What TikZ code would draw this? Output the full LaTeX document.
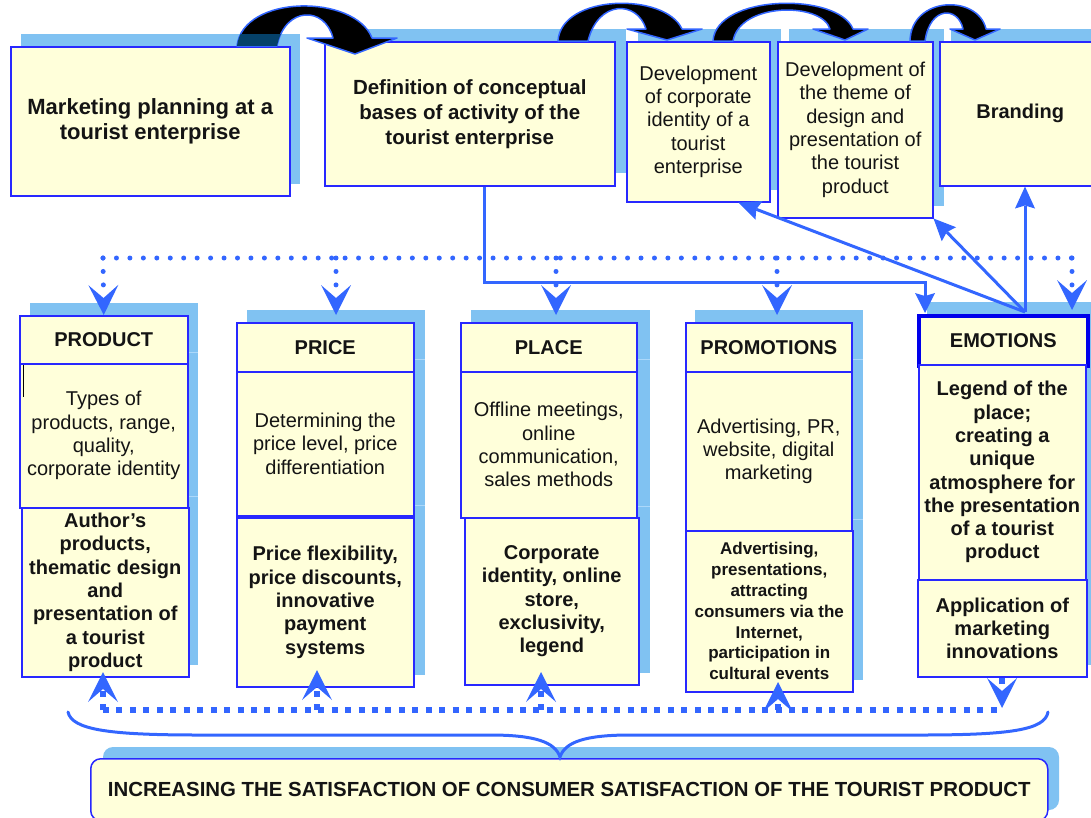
\documentclass[tikz,border=0pt]{standalone}
\usepackage{fontspec}
\setmainfont{Liberation Sans}
\usetikzlibrary{arrows.meta}
\definecolor{cellfill}{RGB}{255,255,218}
\definecolor{bordblue}{RGB}{40,40,255}
\definecolor{thickblue}{RGB}{0,0,235}
\definecolor{shadowblue}{RGB}{128,194,242}
\definecolor{shadowline}{RGB}{172,216,250}
\definecolor{arrowblue}{RGB}{51,102,255}
\definecolor{navyish}{RGB}{5,65,105}
\definecolor{txt}{RGB}{20,20,20}
\newcommand\arcOnePath{(237,46) .. controls (243,-6) and (355,-6) .. (372,38) -- (397,38) -- (355,54) -- (307,38) -- (333,38) .. controls (325,6) and (285,6) .. (277,46) -- cycle}
\newcommand\arcTwoPath{(558,41) .. controls (561,-6) and (665,-8) .. (682,29) -- (702,29) -- (667,40) -- (627,29) -- (646,29) .. controls (637,0) and (598,0) .. (588,41) -- cycle}
\newcommand\arcThreePath{(713,41) .. controls (716,-6) and (838,-8) .. (853,29) -- (868,29) -- (845,40) -- (813,29) -- (830,29) .. controls (822,2) and (740,2) .. (733,41) -- cycle}
\newcommand\arcFourPath{(910,41) .. controls (911,-4) and (978,-6) .. (986,29) -- (1000,29) -- (975,40) -- (950,29) -- (963,29) .. controls (958,6) and (930,6) .. (925,41) -- cycle}
\begin{document}
\begin{tikzpicture}[x=1pt,y=-1pt,
  cell/.style={draw=bordblue, fill=cellfill, line width=1.5pt, inner sep=0pt, align=center, anchor=north west, text=txt},
  reg/.style={font=\fontsize{20}{23.3}\selectfont},
  bld/.style={font=\fontsize{20}{23.3}\selectfont\bfseries},
  shad/.style={fill=shadowblue},
  sepline/.style={draw=shadowline, line width=1pt},
  blackarrow/.style={fill=black, draw=arrowblue, line width=1.5pt, line join=round},
  link/.style={draw=arrowblue, line width=3pt, -{Stealth[length=22pt,width=20pt,inset=3pt,line width=0pt]}},
  topdots/.style={draw=arrowblue, line width=5pt, line cap=round, dash pattern=on 0pt off 13.45pt},
  botdots/.style={draw=arrowblue, line width=6pt, dash pattern=on 6pt off 7.45pt},
  vtip/.style={-{Stealth[length=30pt,width=30pt,inset=13pt,line width=0pt]}},
  bracepath/.style={draw=arrowblue, line width=3pt, line cap=round},
]
\useasboundingbox (0,0) rectangle (1091,817);

% ---------- shadows ----------
\fill[shad] (21,34) rectangle (300,184);
\fill[shad] (336,29) rectangle (626,173);
\fill[shad] (638,29) rectangle (781,190);
\fill[shad] (789,29) rectangle (944,206);
\fill[shad] (951,29) rectangle (1100,173);
\fill[shad] (30,303) rectangle (198,665);
\fill[shad] (247,310) rectangle (425,675);
\fill[shad] (471,310) rectangle (650,673);
\fill[shad] (695,310) rectangle (863,680);
\fill[shad] (927,302) rectangle (1100,665);
\draw[sepline] (30,352) -- (198,352) (30,496) -- (198,496);
\draw[sepline] (247,359) -- (425,359) (247,505) -- (425,505);
\draw[sepline] (471,359) -- (650,359) (471,506) -- (650,506);
\draw[sepline] (695,359) -- (863,359) (695,519) -- (863,519);
\fill[shad, rounded corners=10pt] (103,747) rectangle (1059,810);

% ---------- top row ----------
\node[cell, font=\fontsize{22}{25}\selectfont\bfseries, minimum width=279pt, minimum height=149pt] (plan) at (10,46) {Marketing planning at a\\tourist enterprise};
\node[cell, font=\fontsize{20.5}{25}\selectfont\bfseries, minimum width=290pt, minimum height=144pt] (concept) at (324,41) {Definition of conceptual\\bases of activity of the\\tourist enterprise};
\node[cell, reg, minimum width=143pt, minimum height=160pt] (corp) at (626,41) {Development\\of corporate\\identity of a\\tourist\\enterprise};
\node[cell, reg, minimum width=155pt, minimum height=176pt] (theme) at (777,41) {Development of\\the theme of\\design and\\presentation of\\the tourist\\product};
\node[cell, bld, minimum width=161pt, minimum height=144pt] (brand) at (939,41) {Branding};

% ---------- columns ----------
\node[cell, bld, minimum width=168pt, minimum height=48pt] (prodH) at (19,315) {PRODUCT};
\node[cell, reg, minimum width=168pt, minimum height=144pt] (prodM) at (19,363) {Types of\\products, range,\\quality,\\corporate identity};
\node[cell, bld, minimum width=167pt, minimum height=169pt] (prodB) at (21,507) {Author\char39 s\\products,\\thematic design\\and\\presentation of\\a tourist\\product};
\draw[black, line width=0.8pt] (23,365) -- (23,397);

\node[cell, bld, minimum width=177pt, minimum height=49pt] (priceH) at (236,322) {PRICE};
\node[cell, reg, minimum width=177pt, minimum height=144pt] (priceM) at (236,371) {Determining the\\price level, price\\differentiation};
\node[cell, bld, minimum width=177pt, minimum height=169pt] (priceB) at (236,517) {Price flexibility,\\price discounts,\\innovative\\payment\\systems};

\node[cell, bld, minimum width=176pt, minimum height=49pt] (placeH) at (460,322) {PLACE};
\node[cell, reg, minimum width=176pt, minimum height=146pt] (placeM) at (460,371) {Offline meetings,\\online\\communication,\\sales methods};
\node[cell, bld, minimum width=174pt, minimum height=167pt] (placeB) at (464,517) {Corporate\\identity, online\\store,\\exclusivity,\\legend};

\node[cell, bld, minimum width=166pt, minimum height=49pt] (promoH) at (685,322) {PROMOTIONS};
\node[cell, reg, minimum width=166pt, minimum height=159pt] (promoM) at (685,371) {Advertising, PR,\\website, digital\\marketing};
\node[cell, font=\fontsize{17}{20.8}\selectfont\bfseries, minimum width=167pt, minimum height=161pt] (promoB) at (685,530) {Advertising,\\presentations,\\attracting\\consumers via the\\Internet,\\participation in\\cultural events};

\node[cell, bld, draw=thickblue, line width=3.5pt, minimum width=169pt, minimum height=50pt] (emoH) at (917,314) {EMOTIONS};
\node[cell, bld, minimum width=167pt, minimum height=215pt] (emoM) at (918,364) {Legend of the\\place;\\creating a\\unique\\atmosphere for\\the presentation\\of a tourist\\product};
\node[cell, bld, minimum width=169pt, minimum height=97pt] (emoB) at (917,579) {Application of\\marketing\\innovations};

% ---------- bottom goal ----------
\node[cell, font=\fontsize{20.4}{24}\selectfont\bfseries, rounded corners=10pt, minimum width=957pt, minimum height=62pt] (goal) at (90,758) {INCREASING THE SATISFACTION OF CONSUMER SATISFACTION OF THE TOURIST PRODUCT};

% ---------- black curved arrows ----------
\path[blackarrow] \arcOnePath;
\begin{scope}
  \clip (21,34) rectangle (300,45.5);
  \fill[navyish] \arcOnePath;
\end{scope}
\path[blackarrow] \arcTwoPath;
\path[blackarrow] \arcThreePath;
\path[blackarrow] \arcFourPath;

% ---------- coordinates ----------
\coordinate (tl) at (103,258);
\coordinate (tr) at (1072,258);
\coordinate (d2) at (336,258);
\coordinate (d3) at (556,258);
\coordinate (d4) at (777,258);
\coordinate (bl) at (103,710);
\coordinate (br) at (1002,710);
\coordinate (u2) at (317,710);
\coordinate (u3) at (541,710);
\coordinate (u4) at (778,710);
\coordinate (bend) at (484,282);
\coordinate (emoSrc) at (1025,312);
\coordinate (braceL) at (68,712);
\coordinate (braceR) at (1048,712);
\coordinate (braceTip) at (560,757);

% ---------- top dotted distribution ----------
\draw[topdots] (tl) -- (tr);
\draw[topdots, vtip] (tl) -- (prodH.north);
\draw[topdots, vtip] (d2) -- (336,315);
\draw[topdots, vtip] (d3) -- (556,315);
\draw[topdots, vtip] (d4) -- (777,315);
\draw[topdots, vtip] (tr) -- (1072,310);

% ---------- solid connectors ----------
\draw[link, line join=miter, -{Stealth[length=20pt,width=20pt,inset=3pt,line width=0pt]}] (concept.south -| bend) -- (bend) -- (925,282) -- (925,313);
\draw[link] (emoSrc) -- ([xshift=-32pt]corp.south east);
\draw[link] (emoSrc) -- (theme.south east);
\draw[link] (emoSrc) -- (brand.south -| emoSrc);

% ---------- bottom dotted collection ----------
\draw[botdots] (bl) -- (br);
\draw[botdots, vtip] (bl) -- (103,672);
\draw[botdots, vtip] (u2) -- (317,670);
\draw[botdots, vtip] (u3) -- (541,672);
\draw[botdots, vtip] (u4) -- (778,682);
\draw[botdots, vtip] (emoB.south -| br) -- (1002,708);

% ---------- brace ----------
\draw[bracepath] (braceL) .. controls (72,730) and (110,735) .. (200,735) -- (490,735) .. controls (535,735) and (555,742) .. (braceTip) .. controls (565,742) and (585,735) .. (630,735) -- (920,735) .. controls (1010,735) and (1045,730) .. (braceR);
\end{tikzpicture}
\end{document}
